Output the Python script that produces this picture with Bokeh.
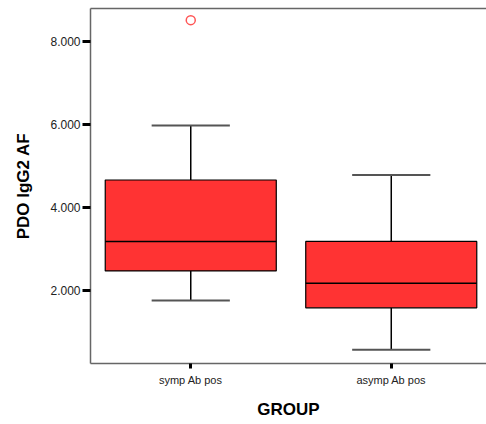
from bokeh.plotting import figure
from bokeh.models import ColumnDataSource, FixedTicker, Range1d, LinearAxis
from bokeh.embed import file_html
from bokeh.resources import INLINE

# ---- data ----
groups = ["symp Ab pos", "asymp Ab pos"]
q1 = [2.48, 1.59]
median = [3.19, 2.18]
q3 = [4.67, 3.19]
whisker_low = [1.77, 0.58]
whisker_high = [5.98, 4.79]
outlier_group = ["symp Ab pos"]
outlier_value = [8.52]
y_ticks = [2, 4, 6, 8]
y_tick_labels = ["2.000", "4.000", "6.000", "8.000"]

xpos = [i + 0.5 for i in range(len(groups))]
box_w = 0.853
cap_w = 0.39

src = ColumnDataSource(dict(
    x=xpos,
    x0=[x - box_w / 2 for x in xpos],
    x1=[x + box_w / 2 for x in xpos],
    c0=[x - cap_w / 2 for x in xpos],
    c1=[x + cap_w / 2 for x in xpos],
    q1=q1, med=median, q3=q3, lo=whisker_low, hi=whisker_high,
))
out_src = ColumnDataSource(dict(
    x=[groups.index(g) + 0.5 for g in outlier_group],
    y=outlier_value,
))

p = figure(width=486, height=424, output_backend="svg", toolbar_location=None,
           x_range=Range1d(0, 1.975), y_range=Range1d(0.25, 8.80),
           min_border_left=90, min_border_right=0, min_border_top=8,
           min_border_bottom=61)
p.background_fill_color = "white"
p.border_fill_color = "white"
p.outline_line_color = None
p.xgrid.visible = False
p.ygrid.visible = False

frame_col = "#666666"

# whiskers
p.segment(x0="x", y0="lo", x1="x", y1="q1", source=src, line_color="black", line_width=1.5)
p.segment(x0="x", y0="q3", x1="x", y1="hi", source=src, line_color="black", line_width=1.5)
# caps
p.segment(x0="c0", y0="lo", x1="c1", y1="lo", source=src, line_color="#555555", line_width=2)
p.segment(x0="c0", y0="hi", x1="c1", y1="hi", source=src, line_color="#555555", line_width=2)
# boxes
p.vbar(x="x", width=box_w, bottom="q1", top="q3", source=src,
       fill_color="#FF3333", line_color="black", line_width=1.2)
# medians
p.segment(x0="x0", y0="med", x1="x1", y1="med", source=src, line_color="black", line_width=1.5)
# outlier
p.scatter(x="x", y="y", source=out_src, marker="circle", size=9,
          fill_color=None, line_color="#FF5555", line_width=1.5)

# y axis
ya = p.left[0]
ya.ticker = FixedTicker(ticks=y_ticks)
ya.major_label_overrides = {t: l for t, l in zip(y_ticks, y_tick_labels)}
ya.axis_line_color = frame_col
ya.axis_line_width = 1.5
ya.major_tick_line_color = "black"
ya.major_tick_line_width = 3
ya.major_tick_out = 8
ya.major_tick_in = 0
ya.minor_tick_line_color = None
ya.major_label_standoff = 2
ya.major_label_text_font = "Liberation Sans"
ya.major_label_text_font_size = "12px"
ya.major_label_text_color = "#222222"
ya.axis_label = "PDO IgG2 AF"
ya.axis_label_text_font = "Liberation Sans"
ya.axis_label_text_font_style = "bold"
ya.axis_label_text_font_size = "17px"
ya.axis_label_text_color = "black"
ya.axis_label_standoff = 14

# x axis
xa = p.below[0]
xa.ticker = FixedTicker(ticks=xpos)
xa.major_label_overrides = {x: g for x, g in zip(xpos, groups)}
xa.axis_line_color = frame_col
xa.axis_line_width = 1.5
xa.major_tick_line_color = "black"
xa.major_tick_line_width = 3
xa.major_tick_out = 5
xa.major_tick_in = 0
xa.minor_tick_line_color = None
xa.major_label_standoff = 5
xa.major_label_text_font = "Liberation Sans"
xa.major_label_text_font_size = "11px"
xa.major_label_text_color = "#222222"
xa.axis_label = "GROUP"
xa.axis_label_text_font = "Liberation Sans"
xa.axis_label_text_font_style = "bold"
xa.axis_label_text_font_size = "17px"
xa.axis_label_text_color = "black"
xa.axis_label_standoff = 11

# top frame line (no ticks, no labels)
top = LinearAxis(ticker=FixedTicker(ticks=[]), axis_line_color=frame_col,
                 axis_line_width=1.5, major_tick_line_color=None,
                 minor_tick_line_color=None, major_label_text_font_size="0px",
                 major_label_standoff=0, major_tick_out=0, minor_tick_out=0)
p.add_layout(top, "above")

open("out.html", "w").write(file_html(p, INLINE))
